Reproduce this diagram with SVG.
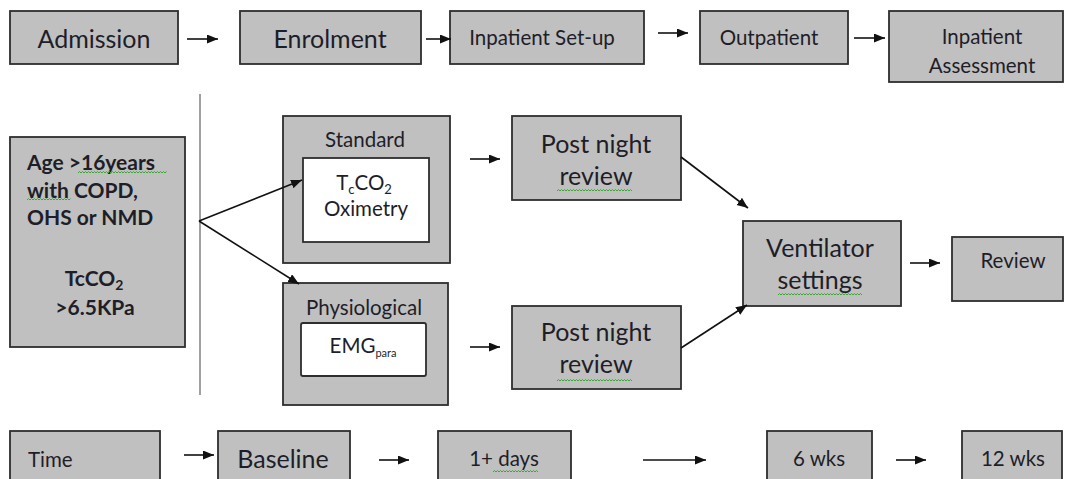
<svg xmlns="http://www.w3.org/2000/svg" width="1067" height="479" viewBox="0 0 1067 479">
<defs>
<style>
.box{fill:#c0c0c0;stroke:#2e2e2e;stroke-width:1.8}
.inner{fill:#ffffff;stroke:#2e2e2e;stroke-width:1.8}
text{font-family:Lato,"Open Sans","Liberation Sans",sans-serif;fill:#1e1e28}
.L{font-size:25px}
.M{font-size:20.5px}
.B{font-size:21px;font-weight:bold}
.c{text-anchor:middle}
.conn{stroke:#111;stroke-width:1.6;fill:none;marker-end:url(#ah)}
.sq{stroke:#3aa832;stroke-width:1;fill:none}
</style>
<marker id="ah" markerUnits="userSpaceOnUse" markerWidth="12" markerHeight="10" refX="11" refY="4.5" orient="auto">
<path d="M0,0 L11,4.5 L0,9 z" fill="#111"/>
</marker>
</defs>
<rect width="1067" height="479" fill="#ffffff"/>

<line x1="200" y1="94" x2="200" y2="395" stroke="#808080" stroke-width="1.5"/>

<g id="admission"><rect class="box" x="10" y="11" width="168" height="53"/><text class="L c" x="94" y="48">Admission</text></g>
<g id="enrolment"><rect class="box" x="240" y="11" width="181" height="53"/><text class="L c" x="330" y="48">Enrolment</text></g>
<g id="inpatient-setup"><rect class="box" x="450" y="11" width="194" height="53"/><text class="M c" x="542" y="45">Inpatient Set-up</text></g>
<g id="outpatient"><rect class="box" x="700" y="11" width="148" height="53"/><text class="M c" x="769" y="45">Outpatient</text></g>
<g id="inpatient-assessment"><rect class="box" x="889" y="11" width="174" height="71"/><text class="M c" x="982" y="44">Inpatient</text><text class="M c" x="982" y="73">Assessment</text></g>

<g id="criteria"><rect class="box" x="10" y="137" width="175" height="210"/>
<text class="B" x="27" y="170">Age &gt;16years</text>
<text class="B" x="27" y="198">with COPD,</text>
<text class="B" x="27" y="225">OHS or NMD</text>
<text class="B c" x="94" y="286">TcCO<tspan font-size="14" dy="4">2</tspan></text>
<text class="B c" x="95" y="315">&gt;6.5KPa</text>
</g>

<g id="standard"><rect class="box" x="283" y="116" width="167" height="147"/>
<text class="M c" x="365" y="147">Standard</text>
<rect class="inner" x="303" y="158" width="126" height="84"/>
<text class="M c" x="364" y="190">T<tspan font-size="13" dy="4">c</tspan><tspan dy="-4">CO</tspan><tspan font-size="13" dy="4">2</tspan></text>
<text class="M c" x="366" y="216">Oximetry</text>
</g>

<g id="physiological"><rect class="box" x="283" y="283" width="165" height="122"/>
<text class="M c" x="364" y="315">Physiological</text>
<rect class="inner" x="301" y="323" width="125" height="53" rx="2"/>
<text class="M c" x="363" y="353">EMG<tspan font-size="11" dy="4">para</tspan></text>
</g>

<g id="review-top"><rect class="box" x="512" y="116" width="169" height="84"/>
<text class="L c" x="596" y="153">Post night</text><text class="L c" x="596" y="185">review</text></g>
<g id="review-bottom"><rect class="box" x="512" y="306" width="169" height="83"/>
<text class="L c" x="596" y="341">Post night</text><text class="L c" x="596" y="373">review</text></g>

<g id="ventilator"><rect class="box" x="743" y="221" width="158" height="85"/>
<text class="L c" x="820" y="257">Ventilator</text><text class="L c" x="820" y="289">settings</text></g>
<g id="review"><rect class="box" x="952" y="237" width="111" height="64"/><text class="M c" x="1013" y="268">Review</text></g>

<g id="time"><rect class="box" x="10" y="431" width="150" height="60"/><text class="M" x="28" y="467">Time</text></g>
<g id="baseline"><rect class="box" x="218" y="431" width="132" height="60"/><text class="L c" x="283" y="468">Baseline</text></g>
<g id="days"><rect class="box" x="438" y="431" width="133" height="60"/><text class="M c" x="504" y="466">1+ days</text></g>
<g id="wk6"><rect class="box" x="767" y="431" width="105" height="60"/><text class="M c" x="819" y="466">6 wks</text></g>
<g id="wk12"><rect class="box" x="962" y="431" width="100" height="60"/><text class="M c" x="1013" y="466">12 wks</text></g>

<g id="connectors">
<line class="conn" x1="187" y1="39" x2="218" y2="39"/>
<line class="conn" x1="426" y1="39" x2="451" y2="39"/>
<line class="conn" x1="658" y1="33" x2="688" y2="33"/>
<line class="conn" x1="854" y1="38" x2="885" y2="38"/>
<line class="conn" x1="199" y1="221" x2="302" y2="180"/>
<line class="conn" x1="199" y1="221" x2="299" y2="284"/>
<line class="conn" x1="470" y1="159" x2="500" y2="159"/>
<line class="conn" x1="470" y1="347" x2="500" y2="347"/>
<line class="conn" x1="681" y1="157" x2="748" y2="208"/>
<line class="conn" x1="681" y1="348" x2="747" y2="305"/>
<line class="conn" x1="910" y1="263" x2="940" y2="263"/>
<line class="conn" x1="184" y1="455" x2="214" y2="455"/>
<line class="conn" x1="379" y1="460" x2="409" y2="460"/>
<line class="conn" x1="643" y1="460" x2="706" y2="460"/>
<line class="conn" x1="896" y1="460" x2="926" y2="460"/>
</g>

<g id="spellcheck">
<path class="sq" d="M78,173 l1.5,-1.5 l1.5,1.5 l1.5,-1.5 l1.5,1.5 l1.5,-1.5 l1.5,1.5 l1.5,-1.5 l1.5,1.5 l1.5,-1.5 l1.5,1.5 l1.5,-1.5 l1.5,1.5 l1.5,-1.5 l1.5,1.5 l1.5,-1.5 l1.5,1.5 l1.5,-1.5 l1.5,1.5 l1.5,-1.5 l1.5,1.5 l1.5,-1.5 l1.5,1.5 l1.5,-1.5 l1.5,1.5 l1.5,-1.5 l1.5,1.5 l1.5,-1.5 l1.5,1.5 l1.5,-1.5 l1.5,1.5 l1.5,-1.5 l1.5,1.5 l1.5,-1.5 l1.5,1.5 l1.5,-1.5 l1.5,1.5 l1.5,-1.5 l1.5,1.5 l1.5,-1.5 l1.5,1.5 l1.5,-1.5 l1.5,1.5 l1.5,-1.5 l1.5,1.5 l1.5,-1.5 l1.5,1.5 l1.5,-1.5 l1.5,1.5 l1.5,-1.5 l1.5,1.5 l1.5,-1.5 l1.5,1.5 l1.5,-1.5 l1.5,1.5 l1.5,-1.5 l1.5,1.5 l1.5,-1.5 l1.5,1.5 l1.5,-1.5"/>
<path class="sq" d="M27,200 l1.5,-1.5 l1.5,1.5 l1.5,-1.5 l1.5,1.5 l1.5,-1.5 l1.5,1.5 l1.5,-1.5 l1.5,1.5 l1.5,-1.5 l1.5,1.5 l1.5,-1.5 l1.5,1.5 l1.5,-1.5 l1.5,1.5 l1.5,-1.5 l1.5,1.5 l1.5,-1.5 l1.5,1.5 l1.5,-1.5 l1.5,1.5 l1.5,-1.5 l1.5,1.5 l1.5,-1.5 l1.5,1.5 l1.5,-1.5 l1.5,1.5 l1.5,-1.5 l1.5,1.5 l1.5,-1.5"/>
<path class="sq" d="M557,191 l1.5,-1.5 l1.5,1.5 l1.5,-1.5 l1.5,1.5 l1.5,-1.5 l1.5,1.5 l1.5,-1.5 l1.5,1.5 l1.5,-1.5 l1.5,1.5 l1.5,-1.5 l1.5,1.5 l1.5,-1.5 l1.5,1.5 l1.5,-1.5 l1.5,1.5 l1.5,-1.5 l1.5,1.5 l1.5,-1.5 l1.5,1.5 l1.5,-1.5 l1.5,1.5 l1.5,-1.5 l1.5,1.5 l1.5,-1.5 l1.5,1.5 l1.5,-1.5 l1.5,1.5 l1.5,-1.5 l1.5,1.5 l1.5,-1.5 l1.5,1.5 l1.5,-1.5 l1.5,1.5 l1.5,-1.5 l1.5,1.5 l1.5,-1.5 l1.5,1.5 l1.5,-1.5 l1.5,1.5 l1.5,-1.5 l1.5,1.5 l1.5,-1.5 l1.5,1.5 l1.5,-1.5 l1.5,1.5 l1.5,-1.5 l1.5,1.5 l1.5,-1.5 l1.5,1.5"/>
<path class="sq" d="M557,381 l1.5,-1.5 l1.5,1.5 l1.5,-1.5 l1.5,1.5 l1.5,-1.5 l1.5,1.5 l1.5,-1.5 l1.5,1.5 l1.5,-1.5 l1.5,1.5 l1.5,-1.5 l1.5,1.5 l1.5,-1.5 l1.5,1.5 l1.5,-1.5 l1.5,1.5 l1.5,-1.5 l1.5,1.5 l1.5,-1.5 l1.5,1.5 l1.5,-1.5 l1.5,1.5 l1.5,-1.5 l1.5,1.5 l1.5,-1.5 l1.5,1.5 l1.5,-1.5 l1.5,1.5 l1.5,-1.5 l1.5,1.5 l1.5,-1.5 l1.5,1.5 l1.5,-1.5 l1.5,1.5 l1.5,-1.5 l1.5,1.5 l1.5,-1.5 l1.5,1.5 l1.5,-1.5 l1.5,1.5 l1.5,-1.5 l1.5,1.5 l1.5,-1.5 l1.5,1.5 l1.5,-1.5 l1.5,1.5 l1.5,-1.5 l1.5,1.5 l1.5,-1.5 l1.5,1.5"/>
<path class="sq" d="M778,295 l1.5,-1.5 l1.5,1.5 l1.5,-1.5 l1.5,1.5 l1.5,-1.5 l1.5,1.5 l1.5,-1.5 l1.5,1.5 l1.5,-1.5 l1.5,1.5 l1.5,-1.5 l1.5,1.5 l1.5,-1.5 l1.5,1.5 l1.5,-1.5 l1.5,1.5 l1.5,-1.5 l1.5,1.5 l1.5,-1.5 l1.5,1.5 l1.5,-1.5 l1.5,1.5 l1.5,-1.5 l1.5,1.5 l1.5,-1.5 l1.5,1.5 l1.5,-1.5 l1.5,1.5 l1.5,-1.5 l1.5,1.5 l1.5,-1.5 l1.5,1.5 l1.5,-1.5 l1.5,1.5 l1.5,-1.5 l1.5,1.5 l1.5,-1.5 l1.5,1.5 l1.5,-1.5 l1.5,1.5 l1.5,-1.5 l1.5,1.5 l1.5,-1.5 l1.5,1.5 l1.5,-1.5 l1.5,1.5 l1.5,-1.5 l1.5,1.5 l1.5,-1.5 l1.5,1.5 l1.5,-1.5 l1.5,1.5 l1.5,-1.5 l1.5,1.5 l1.5,-1.5 l1.5,1.5"/>
<path class="sq" d="M493,472 l1.5,-1.5 l1.5,1.5 l1.5,-1.5 l1.5,1.5 l1.5,-1.5 l1.5,1.5 l1.5,-1.5 l1.5,1.5 l1.5,-1.5 l1.5,1.5 l1.5,-1.5 l1.5,1.5 l1.5,-1.5 l1.5,1.5 l1.5,-1.5 l1.5,1.5 l1.5,-1.5 l1.5,1.5 l1.5,-1.5 l1.5,1.5 l1.5,-1.5 l1.5,1.5 l1.5,-1.5 l1.5,1.5 l1.5,-1.5 l1.5,1.5 l1.5,-1.5 l1.5,1.5 l1.5,-1.5 l1.5,1.5"/>
</g>
</svg>
